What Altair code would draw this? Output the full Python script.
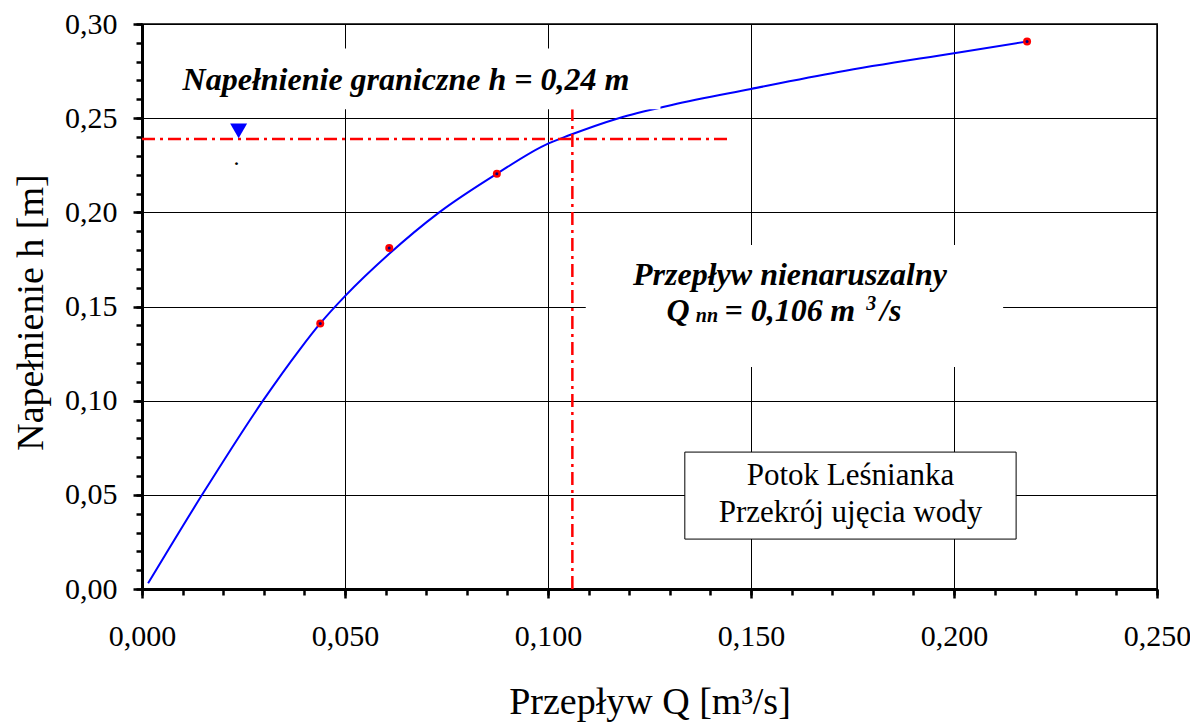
import altair as alt
import pandas as pd

FONT = "Liberation Serif"

# ---------------- data ----------------
curve_q = [0.0015, 0.0148, 0.0298, 0.0388, 0.0439, 0.0500, 0.0609, 0.0732,
           0.0874, 0.1000, 0.1052, 0.1174, 0.1305, 0.1500, 0.1715, 0.2000, 0.2180]
curve_h = [0.003, 0.050, 0.100, 0.127, 0.141, 0.1555, 0.178, 0.200,
           0.2205, 0.2365, 0.2409, 0.250, 0.257, 0.2655, 0.2745, 0.2845, 0.2907]

meas_q = [0.0439, 0.0609, 0.0874, 0.2180]
meas_h = [0.141, 0.181, 0.2205, 0.2907]

limit_h = 0.239          # napełnienie graniczne
limit_q = [0.0, 0.145]   # extent of the horizontal dash-dot line
qnn = 0.106              # przepływ nienaruszalny
qnn_h = [0.0, 0.2547]

tri_q = [0.0238]
tri_h = [0.2432]

x_major = [0.00, 0.05, 0.10, 0.15, 0.20, 0.25]
x_minor = [0.00, 0.01, 0.02, 0.03, 0.04, 0.05, 0.06, 0.07, 0.08, 0.09, 0.10,
           0.11, 0.12, 0.13, 0.14, 0.15, 0.16, 0.17, 0.18, 0.19, 0.20,
           0.21, 0.22, 0.23, 0.24, 0.25]
y_major = [0.00, 0.05, 0.10, 0.15, 0.20, 0.25, 0.30]
y_minor = [0.00, 0.01, 0.02, 0.03, 0.04, 0.05, 0.06, 0.07, 0.08, 0.09, 0.10,
           0.11, 0.12, 0.13, 0.14, 0.15, 0.16, 0.17, 0.18, 0.19, 0.20,
           0.21, 0.22, 0.23, 0.24, 0.25, 0.26, 0.27, 0.28, 0.29, 0.30]

# white label backgrounds (q1, q2, h1, h2)
bg_q1 = [0.0068, 0.1093]
bg_q2 = [0.1277, 0.2121]
bg_h1 = [0.2547, 0.1179]
bg_h2 = [0.2870, 0.1826]

# framed legend box
box_q = [0.1337, 0.2153]
box_h = [0.0265, 0.0727]

# annotation texts
big_text = ["Napełnienie graniczne h = 0,24 m", "Przepływ nienaruszalny"]
big_q = [0.0100, 0.1596]
big_h = [0.2651, 0.1613]

qnn_parts = ["Q", "= 0,106", "m", "/s"]
qnn_parts_q = [0.1292, 0.1435, 0.1695, 0.1818]
qnn_parts_h = [0.1423, 0.1423, 0.1423, 0.1423]

small_parts = ["nn", "3"]
small_parts_q = [0.1364, 0.1784]
small_parts_h = [0.1417, 0.1481]

dot_q = [0.0233]
dot_h = [0.2250]

box_text = ["Potok Leśnianka", "Przekrój ujęcia wody"]
box_text_q = [0.1745, 0.1745]
box_text_h = [0.0553, 0.0358]

# ---------------- chart ----------------
xs = alt.Scale(domain=[0, 0.25], nice=False, zero=False)
ys = alt.Scale(domain=[0, 0.30], nice=False, zero=False)

x_axis = alt.Axis(
    values=x_major, orient="bottom",
    labelExpr="replace(format(datum.value, '.3f'), '.', ',')",
    grid=True, gridColor="black", gridWidth=1, gridOpacity=1,
    domainColor="black", domainWidth=3,
    tickColor="black", tickWidth=2.5, tickSize=9,
    labelFont=FONT, labelFontSize=30, labelColor="black", labelPadding=23,
    labelFlush=False, labelOverlap=False,
    title="Przepływ Q [m³/s]", titleFont=FONT, titleFontSize=38,
    titleFontWeight="normal", titleColor="black",
    titleY=124, titleBaseline="alphabetic",
)
y_axis = alt.Axis(
    values=y_major, orient="left",
    labelExpr="replace(format(datum.value, '.2f'), '.', ',')",
    grid=True, gridColor="black", gridWidth=1, gridOpacity=1,
    domainColor="black", domainWidth=3,
    tickColor="black", tickWidth=2.5, tickSize=9,
    labelFont=FONT, labelFontSize=30, labelColor="black", labelPadding=16,
    labelOverlap=False, labelFlush=False,
    title="Napełnienie h [m]", titleFont=FONT, titleFontSize=38,
    titleFontWeight="normal", titleColor="black",
    titleAngle=270, titleX=-100, titleY=288, titleAlign="center",
    titleBaseline="alphabetic",
)
x_minor_axis = alt.Axis(values=x_minor, orient="bottom", labels=False, grid=False,
                        domain=False, tickColor="black", tickWidth=2.5, tickSize=6)
y_minor_axis = alt.Axis(values=y_minor, orient="left", labels=False, grid=False,
                        domain=False, tickColor="black", tickWidth=2.5, tickSize=6)

curve_df = pd.DataFrame({"q": curve_q, "h": curve_h})
meas_df = pd.DataFrame({"q": meas_q, "h": meas_h})

curve = alt.Chart(curve_df).mark_line(
    color="#0000FF", strokeWidth=2, interpolate="monotone"
).encode(
    x=alt.X("q:Q", scale=xs, axis=x_axis),
    y=alt.Y("h:Q", scale=ys, axis=y_axis),
)

hline = alt.Chart(pd.DataFrame({"q1": [limit_q[0]], "q2": [limit_q[1]], "h": [limit_h]})).mark_rule(
    color="#FF0000", strokeWidth=2.5, strokeDash=[13, 5, 3, 5]
).encode(
    x=alt.X("q1:Q", scale=xs, axis=None), x2="q2:Q",
    y=alt.Y("h:Q", scale=ys, axis=None),
)
vline = alt.Chart(pd.DataFrame({"q": [qnn], "h1": [qnn_h[0]], "h2": [qnn_h[1]]})).mark_rule(
    color="#FF0000", strokeWidth=2.5, strokeDash=[13, 5, 3, 5]
).encode(
    x=alt.X("q:Q", scale=xs, axis=None),
    y=alt.Y("h1:Q", scale=ys, axis=None), y2="h2:Q",
)

bg = alt.Chart(pd.DataFrame({"q1": bg_q1, "q2": bg_q2, "h1": bg_h1, "h2": bg_h2})).mark_rect(
    fill="white", strokeWidth=0
).encode(
    x=alt.X("q1:Q", scale=xs, axis=None), x2="q2:Q",
    y=alt.Y("h1:Q", scale=ys, axis=None), y2="h2:Q",
)

box = alt.Chart(pd.DataFrame({"q1": [box_q[0]], "q2": [box_q[1]], "h1": [box_h[0]], "h2": [box_h[1]]})).mark_rect(
    fill="white", stroke="black", strokeWidth=1
).encode(
    x=alt.X("q1:Q", scale=xs, axis=None), x2="q2:Q",
    y=alt.Y("h1:Q", scale=ys, axis=None), y2="h2:Q",
)

pts = alt.Chart(meas_df).mark_point(
    shape="circle", filled=True, color="#FF0000", size=64, opacity=1
).encode(
    x=alt.X("q:Q", scale=xs, axis=x_minor_axis, title=None),
    y=alt.Y("h:Q", scale=ys, axis=y_minor_axis, title=None),
)
pts_c = alt.Chart(meas_df).mark_point(
    shape="circle", filled=True, color="#000080", size=9, opacity=1
).encode(
    x=alt.X("q:Q", scale=xs, axis=None),
    y=alt.Y("h:Q", scale=ys, axis=None),
)

tri = alt.Chart(pd.DataFrame({"q": tri_q, "h": tri_h})).mark_point(
    shape="triangle-down", filled=True, color="#0000FF", size=289, opacity=1
).encode(
    x=alt.X("q:Q", scale=xs, axis=None),
    y=alt.Y("h:Q", scale=ys, axis=None),
)

big_df = pd.DataFrame({"t": big_text, "q": big_q, "h": big_h})
big1 = alt.Chart(big_df.iloc[[0]]).mark_text(
    font=FONT, fontSize=32, fontStyle="italic", fontWeight="bold",
    color="black", align="left", baseline="alphabetic"
).encode(x=alt.X("q:Q", scale=xs, axis=None), y=alt.Y("h:Q", scale=ys, axis=None), text="t:N")
big2 = alt.Chart(big_df.iloc[[1]]).mark_text(
    font=FONT, fontSize=32, fontStyle="italic", fontWeight="bold",
    color="black", align="center", baseline="alphabetic"
).encode(x=alt.X("q:Q", scale=xs, axis=None), y=alt.Y("h:Q", scale=ys, axis=None), text="t:N")

qnn_txt = alt.Chart(pd.DataFrame({"t": qnn_parts, "q": qnn_parts_q, "h": qnn_parts_h})).mark_text(
    font=FONT, fontSize=32, fontStyle="italic", fontWeight="bold",
    color="black", align="left", baseline="alphabetic"
).encode(x=alt.X("q:Q", scale=xs, axis=None), y=alt.Y("h:Q", scale=ys, axis=None), text="t:N")
small_txt = alt.Chart(pd.DataFrame({"t": small_parts, "q": small_parts_q, "h": small_parts_h})).mark_text(
    font=FONT, fontSize=20, fontStyle="italic", fontWeight="bold",
    color="black", align="left", baseline="alphabetic"
).encode(x=alt.X("q:Q", scale=xs, axis=None), y=alt.Y("h:Q", scale=ys, axis=None), text="t:N")

dot_txt = alt.Chart(pd.DataFrame({"t": ["."], "q": dot_q, "h": dot_h})).mark_text(
    font=FONT, fontSize=24, color="black", align="center", baseline="alphabetic"
).encode(x=alt.X("q:Q", scale=xs, axis=None), y=alt.Y("h:Q", scale=ys, axis=None), text="t:N")

box_txt = alt.Chart(pd.DataFrame({"t": box_text, "q": box_text_q, "h": box_text_h})).mark_text(
    font=FONT, fontSize=31, color="black", align="center", baseline="alphabetic"
).encode(x=alt.X("q:Q", scale=xs, axis=None), y=alt.Y("h:Q", scale=ys, axis=None), text="t:N")

chart = alt.layer(
    curve, hline, vline, bg, box, pts, pts_c, tri,
    big1, big2, qnn_txt, small_txt, dot_txt, box_txt,
).resolve_axis(
    x="independent", y="independent"
).properties(
    width=1015, height=565,
    autosize=alt.AutoSizeParams(type="none"),
    padding={"left": 134, "top": 16, "right": 33, "bottom": 133},
    background="white",
).configure_view(
    stroke="#404040", strokeWidth=2
)

chart.save("out.html", embed_options={"renderer": "svg", "actions": False})
